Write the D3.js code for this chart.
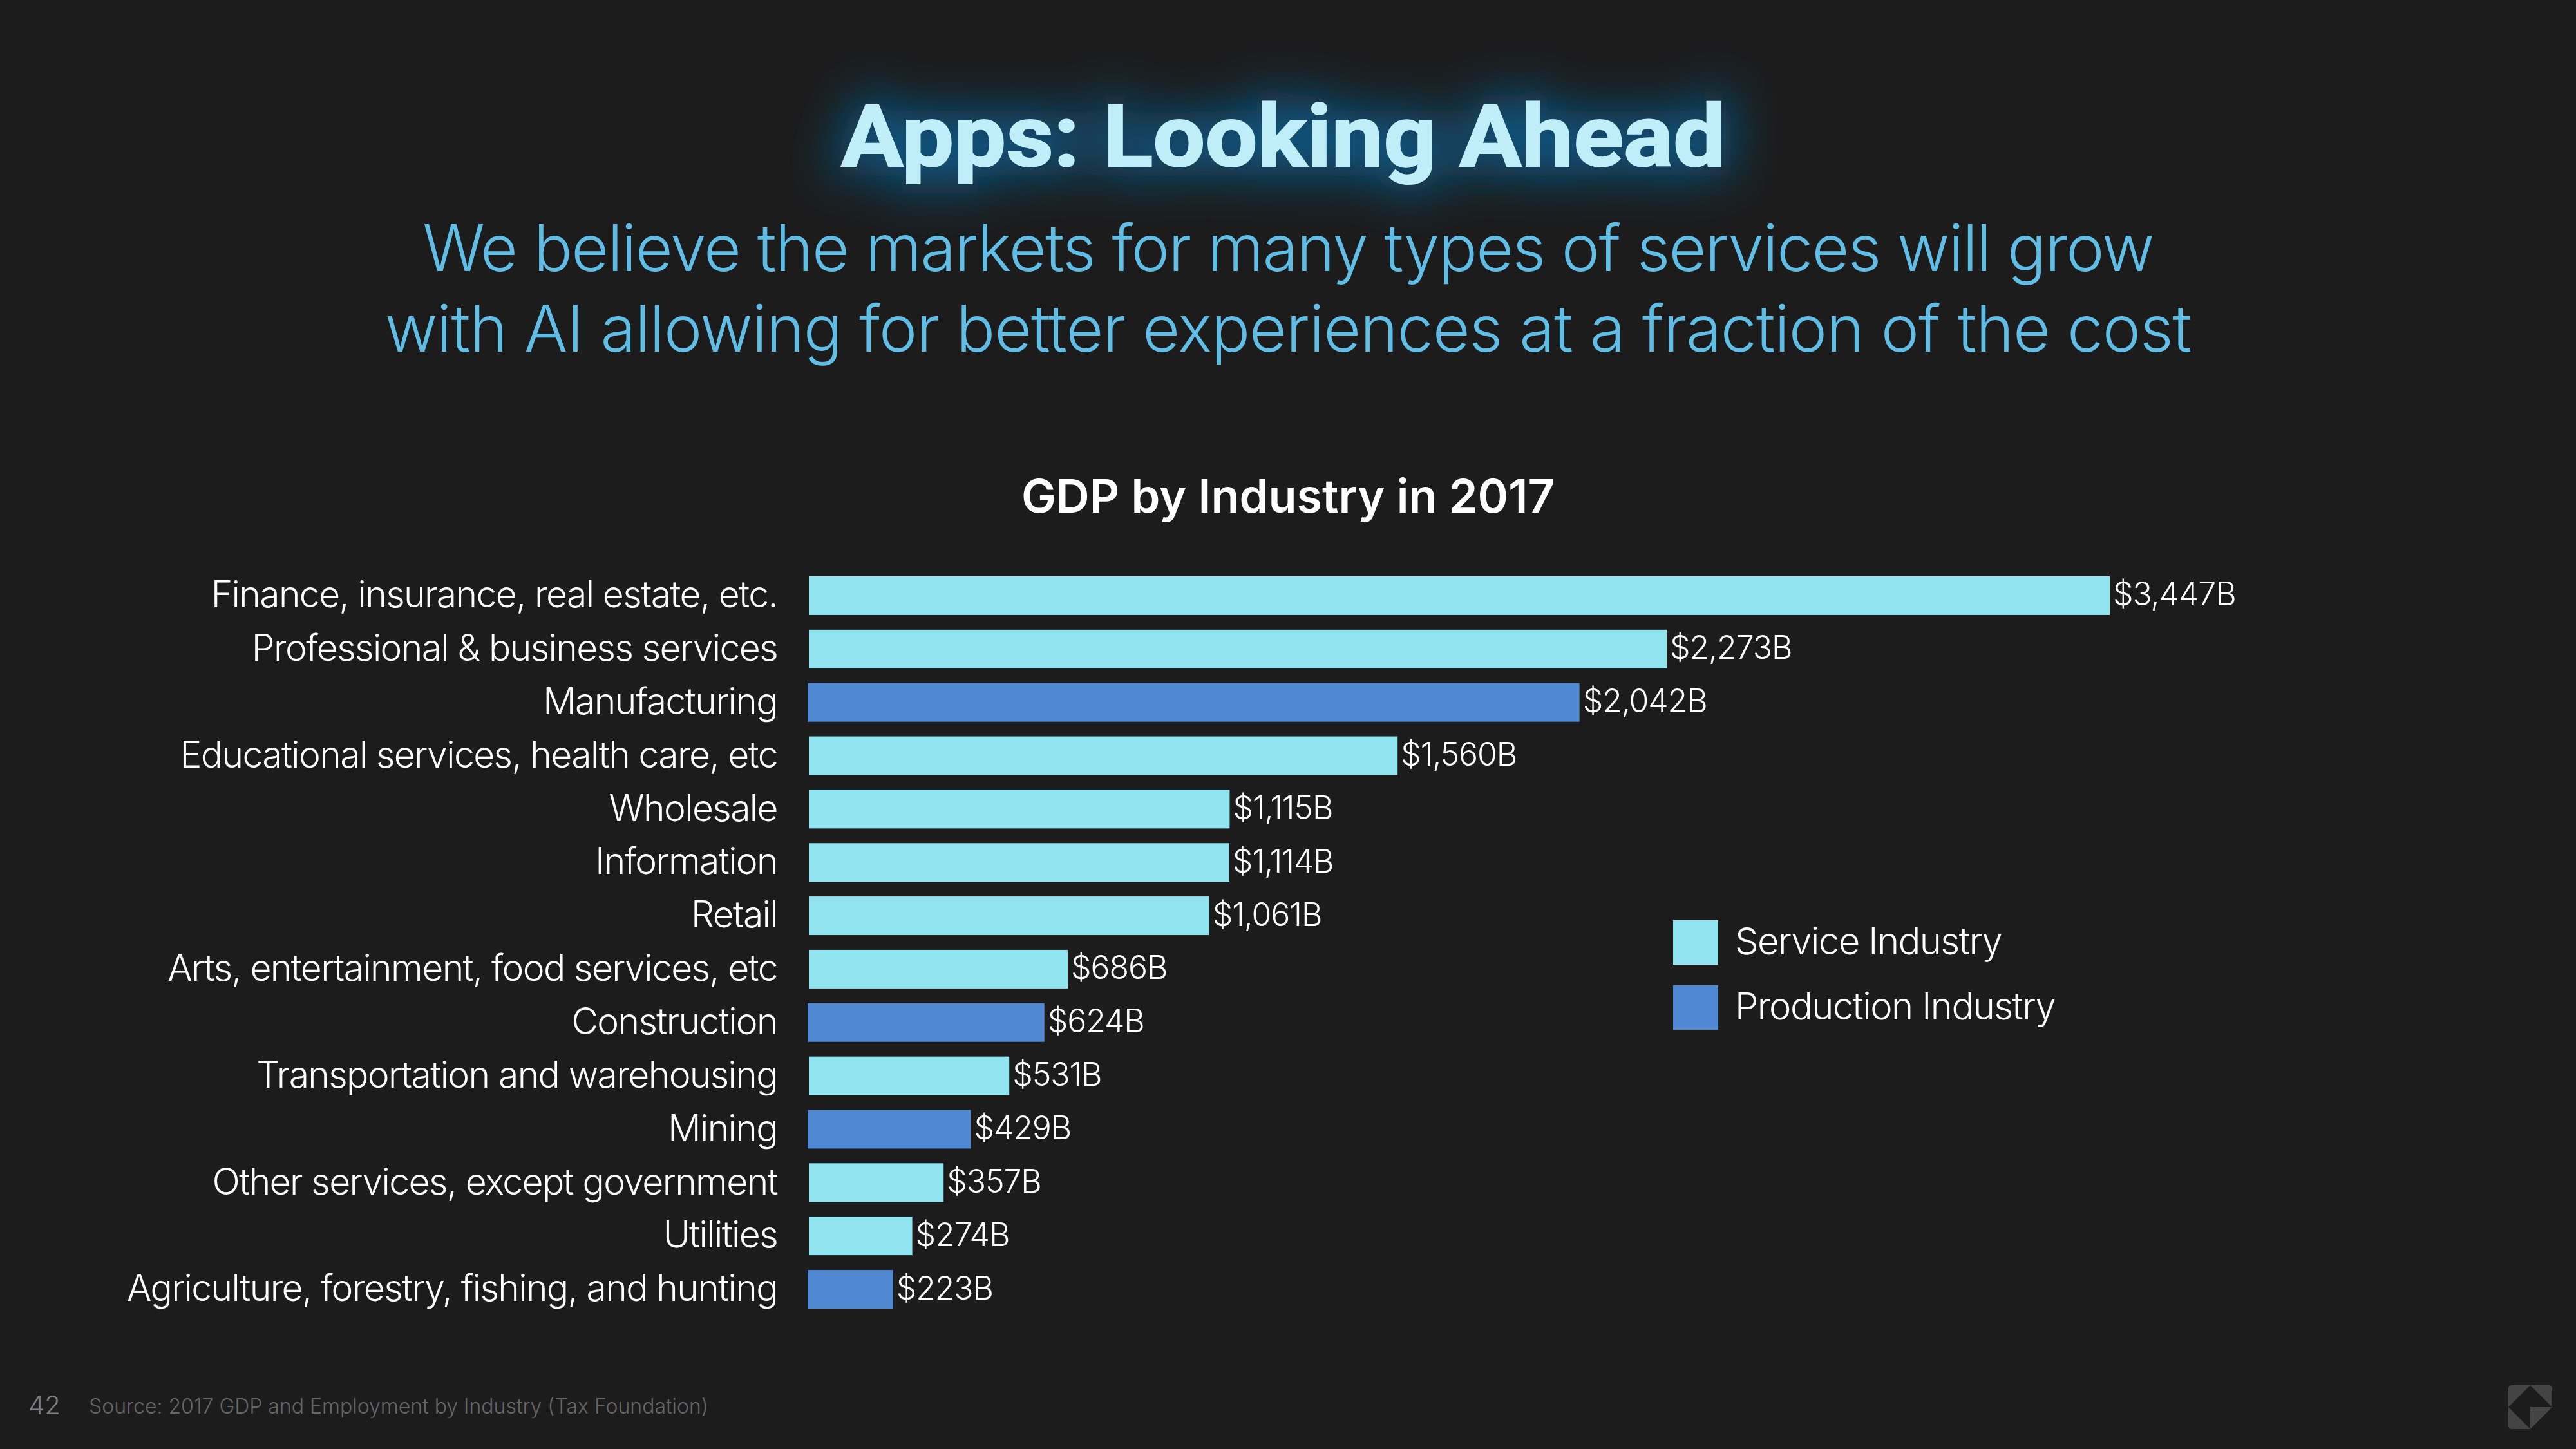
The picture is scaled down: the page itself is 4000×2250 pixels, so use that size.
<!DOCTYPE html>
<html>
<head>
<meta charset="utf-8">
<script src="https://cdn.jsdelivr.net/npm/d3@7"></script>
<style>
  html, body { margin: 0; background: #1c1c1c; }
  svg { display: block; }
  text { font-family: Inter, "Noto Sans", sans-serif; }
</style>
</head>
<body>
<svg id="chart" width="4000" height="2250"></svg>
<script>
const categories = [
  'Finance, insurance, real estate, etc.',
  'Professional & business services',
  'Manufacturing',
  'Educational services, health care, etc',
  'Wholesale',
  'Information',
  'Retail',
  'Arts, entertainment, food services, etc',
  'Construction',
  'Transportation and warehousing',
  'Mining',
  'Other services, except government',
  'Utilities',
  'Agriculture, forestry, fishing, and hunting'
];
const values = [3447, 2273, 2042, 1560, 1115, 1114, 1061, 686, 624, 531, 429, 357, 274, 223];
const kinds = ['S', 'S', 'P', 'S', 'S', 'S', 'S', 'S', 'P', 'S', 'P', 'S', 'S', 'P'];
const legendLabels = ['Service Industry', 'Production Industry'];
const subtitleLines = [
  'We believe the markets for many types of services will grow',
  'with AI allowing for better experiences at a fraction of the cost'
];

const SERVICE = '#90e4f0';
const PRODUCTION = '#5088d4';

const svg = d3.select('#chart');
svg.append('rect').attr('width', 4000).attr('height', 2250).attr('fill', '#1c1c1c');

// title glow
const defs = svg.append('defs');
const glow = defs.append('filter').attr('id', 'glow')
  .attr('x', '-15%').attr('y', '-100%').attr('width', '130%').attr('height', '300%');
glow.append('feGaussianBlur').attr('stdDeviation', 38);

function title(sel) {
  sel.attr('x', 1306).attr('y', 258)
    .attr('font-size', 133)
    .attr('font-weight', 700)
    .attr('textLength', 1373)
    .attr('lengthAdjust', 'spacingAndGlyphs')
    .style('font-family', 'Roboto, sans-serif')
    .text('Apps: Looking Ahead');
}
svg.append('text').call(title).attr('fill', '#115480').attr('stroke', '#115480').attr('stroke-width', 30).attr('filter', 'url(#glow)');
svg.append('text').call(title).attr('fill', '#c0eef8').attr('stroke', '#c0eef8').attr('stroke-width', 2);

svg.selectAll('.subtitle')
  .data(subtitleLines)
  .join('text')
  .attr('class', 'subtitle')
  .attr('x', 2000)
  .attr('y', (d, i) => 421 + i * 125)
  .attr('text-anchor', 'middle')
  .attr('font-size', 100)
  .attr('font-weight', 300)
  .attr('letter-spacing', (d, i) => i === 0 ? -1.7 : -1.07)
  .attr('fill', '#5fbde6')
  .text(d => d);

svg.append('text')
  .attr('x', 2000).attr('y', 796)
  .attr('text-anchor', 'middle')
  .attr('font-size', 72)
  .attr('font-weight', 600)
  .attr('fill', '#ffffff')
  .text('GDP by Industry in 2017');

const x = d3.scaleLinear().domain([0, 3447]).range([1256, 3276]);
const y = d3.scaleBand().domain(categories).range([895, 2032]).paddingInner(0.276);

const yAxis = d3.axisLeft(y).tickSize(0).tickPadding(49);
const axisG = svg.append('g').attr('transform', `translate(${x(0)},0)`).call(yAxis);
axisG.select('.domain').remove();
axisG.selectAll('text')
  .attr('font-size', 57)
  .attr('font-weight', 300)
  .attr('letter-spacing', -1.6)
  .attr('fill', '#ffffff')
  .style('font-family', 'Inter, sans-serif');

svg.selectAll('.bar')
  .data(categories)
  .join('rect')
  .attr('class', 'bar')
  .attr('x', (d, i) => x(0) - (kinds[i] === 'P' ? 2 : 0))
  .attr('y', d => y(d))
  .attr('width', (d, i) => x(values[i]) - x(0) + (kinds[i] === 'P' ? 2 : 0))
  .attr('height', y.bandwidth())
  .attr('fill', (d, i) => kinds[i] === 'P' ? PRODUCTION : SERVICE);

svg.selectAll('.val')
  .data(categories)
  .join('text')
  .attr('class', 'val')
  .attr('x', (d, i) => x(values[i]) + 5)
  .attr('y', d => y(d) + y.bandwidth() / 2)
  .attr('dy', '0.31em')
  .attr('font-size', 50)
  .attr('font-weight', 300)
  .attr('letter-spacing', -1.1)
  .attr('fill', '#ffffff')
  .text((d, i) => '$' + d3.format(',')(values[i]) + 'B');

// legend
const legend = svg.selectAll('.legend')
  .data(legendLabels)
  .join('g')
  .attr('class', 'legend')
  .attr('transform', (d, i) => `translate(2598,${1429 + i * 101})`);
legend.append('rect').attr('width', 70).attr('height', 69)
  .attr('fill', (d, i) => i === 0 ? SERVICE : PRODUCTION);
legend.append('text').attr('x', 96).attr('y', 53)
  .attr('font-size', 58).attr('font-weight', 300).attr('letter-spacing', -1.6).attr('fill', '#ffffff')
  .text(d => d);

// footer
svg.append('text').attr('x', 44).attr('y', 2196)
  .attr('font-size', 40).attr('font-weight', 300).attr('fill', '#808080').text('42');
svg.append('text').attr('x', 138).attr('y', 2195)
  .attr('font-size', 32).attr('font-weight', 300).attr('fill', '#666666')
  .text('Source: 2017 GDP and Employment by Industry (Tax Foundation)');

// logo
const logo = svg.append('g').attr('transform', 'translate(3895,2151)').attr('fill', '#444444');
logo.append('path').attr('d', 'M0 34 L34 0 L5 0 Q0 0 0 5 Z');
logo.append('path').attr('d', 'M34 0 L68 34 L68 5 Q68 0 63 0 Z');
logo.append('path').attr('d', 'M0 34 L34 68 L5 68 Q0 68 0 63 Z');
logo.append('path').attr('d', 'M34 34 L68 34 L34 68 Z');
</script>
</body>
</html>
